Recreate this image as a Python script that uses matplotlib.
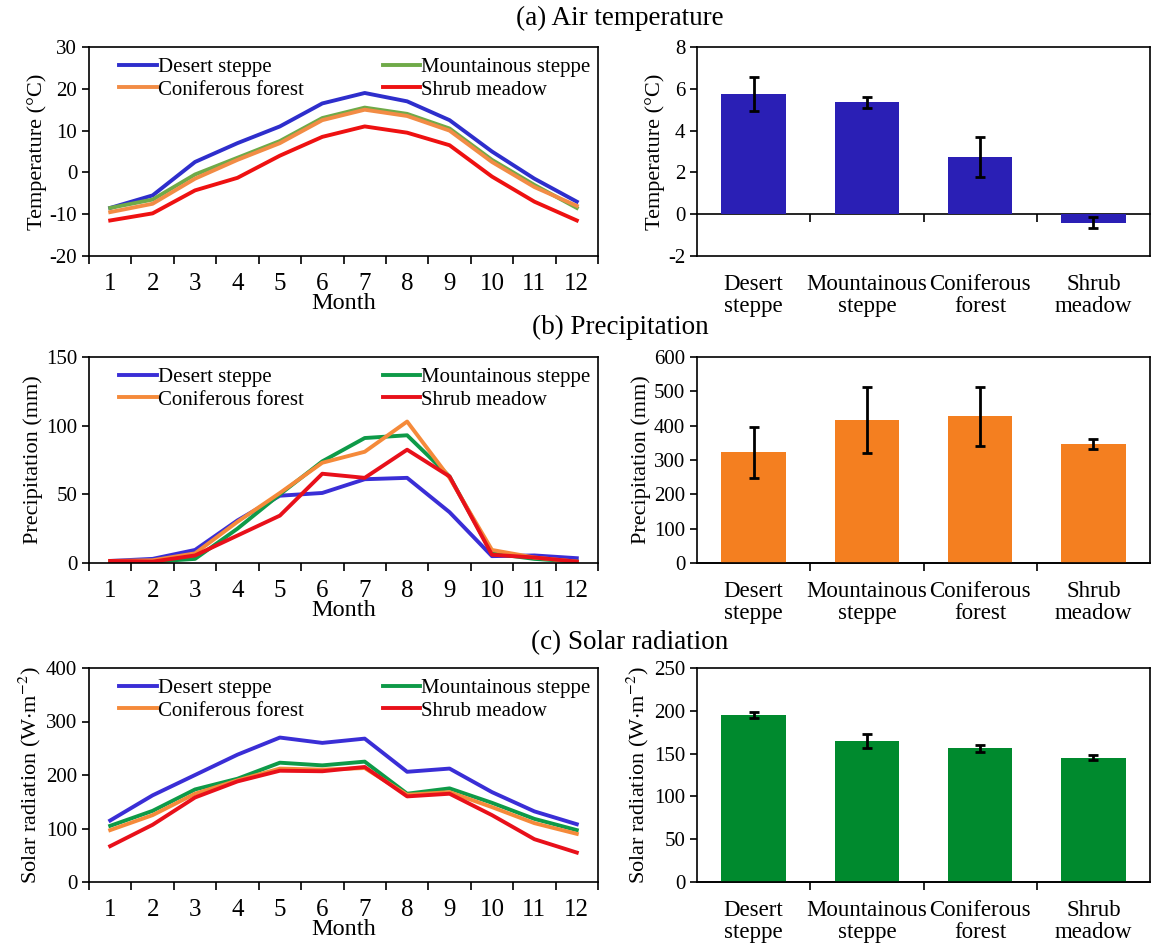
import numpy as np
import matplotlib
matplotlib.use('Agg')
import matplotlib.pyplot as plt

plt.rcParams['font.family'] = ['Liberation Serif', 'DejaVu Serif']
plt.rcParams['mathtext.fontset'] = 'stix'
plt.rcParams['axes.unicode_minus'] = False

months = list(range(1, 13))
series_names = ['Desert steppe', 'Mountainous steppe', 'Coniferous forest', 'Shrub meadow']
bar_labels = ['Desert\nsteppe', 'Mountainous\nsteppe', 'Coniferous\nforest', 'Shrub\nmeadow']

# (a) air temperature, monthly
temp_desert = [-8.5, -5.5, 2.5, 7.0, 11.0, 16.5, 19.0, 17.0, 12.5, 5.0, -1.5, -7.0]
temp_mount = [-8.5, -6.5, -0.5, 3.5, 7.5, 13.0, 15.5, 14.0, 10.5, 3.0, -3.0, -8.5]
temp_conif = [-9.5, -7.5, -1.5, 3.0, 7.0, 12.5, 15.0, 13.5, 10.0, 2.5, -3.5, -8.0]
temp_shrub = [-11.5, -9.8, -4.3, -1.3, 4.0, 8.5, 11.0, 9.5, 6.5, -1.0, -7.0, -11.5]
temp_mean = [5.75, 5.35, 2.75, -0.4]
temp_err = [0.8, 0.25, 0.95, 0.28]

# (b) precipitation, monthly
prec_desert = [1.5, 3.0, 9.5, 31.0, 49.0, 51.0, 61.0, 62.0, 37.0, 5.0, 5.5, 3.5]
prec_mount = [1.0, 1.0, 3.0, 25.0, 50.0, 74.0, 91.0, 93.0, 63.0, 7.0, 3.0, 1.0]
prec_conif = [1.5, 2.0, 7.0, 30.0, 51.0, 73.0, 81.0, 103.0, 62.0, 9.5, 4.0, 1.0]
prec_shrub = [1.5, 1.0, 5.5, 20.0, 34.5, 65.0, 62.0, 82.5, 63.0, 6.0, 4.0, 1.0]
prec_mean = [322, 417, 427, 346]
prec_err = [75, 96, 85, 14]

# (c) solar radiation, monthly
rad_desert = [115, 162, 200, 238, 270, 260, 268, 206, 212, 168, 132, 108]
rad_mount = [105, 133, 173, 193, 223, 218, 225, 165, 175, 148, 118, 97]
rad_conif = [97, 125, 165, 190, 212, 210, 213, 163, 168, 140, 110, 90]
rad_shrub = [67, 107, 158, 188, 208, 207, 215, 160, 165, 125, 80, 55]
rad_mean = [195, 165, 156, 145]
rad_err = [3.5, 8, 4, 3]

FS_YTICK = 15
FS_XTICK = 18
FS_LEG = 15
FS_LAB = 16
FS_CAT = 16.5
FS_TITLE = 19.5


def line_panel(ax, data, colors, ylim, ystep, ylabel):
    lines = []
    for vals, c, name in zip(data, colors, series_names):
        ln, = ax.plot(months, vals, color=c, lw=2.8, label=name)
        lines.append(ln)
    ax.set_xlim(0.5, 12.5)
    ax.set_ylim(*ylim)
    ax.set_yticks(np.arange(ylim[0], ylim[1] + ystep / 2, ystep))
    ax.set_xticks(months)
    ax.set_xticks(np.arange(0.5, 13, 1), minor=True)
    ax.tick_params(axis='x', which='major', length=0, pad=12, labelsize=FS_XTICK)
    ax.tick_params(axis='x', which='minor', length=6, width=1.2, direction='out')
    ax.tick_params(axis='y', length=5, width=1.2, labelsize=FS_YTICK)
    ax.set_xlabel('Month', fontsize=17.5, labelpad=-1)
    ax.set_ylabel(ylabel, fontsize=FS_LAB, labelpad=2)
    for s in ax.spines.values():
        s.set_linewidth(1.2)
    # row-wise legend order: desert, mountainous / coniferous, shrub
    order = [0, 2, 1, 3]
    ax.legend([lines[i] for i in order], [series_names[i] for i in order],
              ncol=2, loc='upper left', bbox_to_anchor=(0.035, 1.01), frameon=False,
              fontsize=FS_LEG, handlelength=1.8, handletextpad=0.05,
              columnspacing=3.8, labelspacing=0.15, borderaxespad=0.2)


def bar_panel(ax, means, errs, color, ylim, ystep, ylabel):
    x = np.arange(len(means))
    ax.bar(x, means, width=0.57, color=color, zorder=2)
    ax.errorbar(x, means, yerr=errs, fmt='none', ecolor='black', elinewidth=2,
                capsize=3.5, capthick=2, zorder=3)
    ax.set_xlim(-0.5, 3.5)
    ax.set_ylim(*ylim)
    ax.set_yticks(np.arange(ylim[0], ylim[1] + ystep / 2, ystep))
    ax.set_xticks(x)
    ax.set_xticklabels(bar_labels, fontsize=FS_CAT, linespacing=1.05)
    ax.tick_params(axis='x', which='major', length=0, pad=13)
    ax.tick_params(axis='y', length=5, width=1.2, labelsize=FS_YTICK)
    ax.set_ylabel(ylabel, fontsize=FS_LAB, labelpad=2)
    for s in ax.spines.values():
        s.set_linewidth(1.2)
    # category axis at zero with ticks between bars
    loc = (0 - ylim[0]) / (ylim[1] - ylim[0])
    sec = ax.secondary_xaxis(loc)
    sec.set_xticks(np.arange(0.5, 3, 1))
    sec.tick_params(axis='x', length=6, width=1.2, direction='out', labelbottom=False)
    sec.spines['bottom'].set_linewidth(1.2)


fig = plt.figure(figsize=(11.52, 9.44), dpi=100)

left_x, left_w = 89 / 1152, 509 / 1152
right_x, right_w = 697 / 1152, 453 / 1152
rows = [(1 - 256 / 944, 209 / 944), (1 - 563 / 944, 206 / 944), (1 - 882 / 944, 214 / 944)]

ax1 = fig.add_axes([left_x, rows[0][0], left_w, rows[0][1]])
ax2 = fig.add_axes([right_x, rows[0][0], right_w, rows[0][1]])
ax3 = fig.add_axes([left_x, rows[1][0], left_w, rows[1][1]])
ax4 = fig.add_axes([right_x, rows[1][0], right_w, rows[1][1]])
ax5 = fig.add_axes([left_x, rows[2][0], left_w, rows[2][1]])
ax6 = fig.add_axes([right_x, rows[2][0], right_w, rows[2][1]])

line_panel(ax1, [temp_desert, temp_mount, temp_conif, temp_shrub],
           ['#2E2ECC', '#6FAA48', '#F28C45', '#EE1111'], (-20, 30), 10, 'Temperature (°C)')
bar_panel(ax2, temp_mean, temp_err, '#2A1FB5', (-2, 8), 2, 'Temperature (°C)')

line_panel(ax3, [prec_desert, prec_mount, prec_conif, prec_shrub],
           ['#3A2ED6', '#0E9A48', '#F58A3A', '#E8101A'], (0, 150), 50, 'Precipitation (mm)')
bar_panel(ax4, prec_mean, prec_err, '#F47F20', (0, 600), 100, 'Precipitation (mm)')

line_panel(ax5, [rad_desert, rad_mount, rad_conif, rad_shrub],
           ['#3A2ED6', '#0E9A48', '#F58A3A', '#E8101A'], (0, 400), 100, 'Solar radiation (W$\\cdot$m$^{-2}$)')
bar_panel(ax6, rad_mean, rad_err, '#008A2E', (0, 250), 50, 'Solar radiation (W$\\cdot$m$^{-2}$)')

fig.text(620 / 1152, 1 - 18 / 944, '(a) Air temperature', ha='center', va='center', fontsize=FS_TITLE)
fig.text(620 / 1152, 1 - 327 / 944, '(b) Precipitation', ha='center', va='center', fontsize=FS_TITLE)
fig.text(630 / 1152, 1 - 643 / 944, '(c) Solar radiation', ha='center', va='center', fontsize=FS_TITLE)

fig.savefig('out.png', dpi=100)
